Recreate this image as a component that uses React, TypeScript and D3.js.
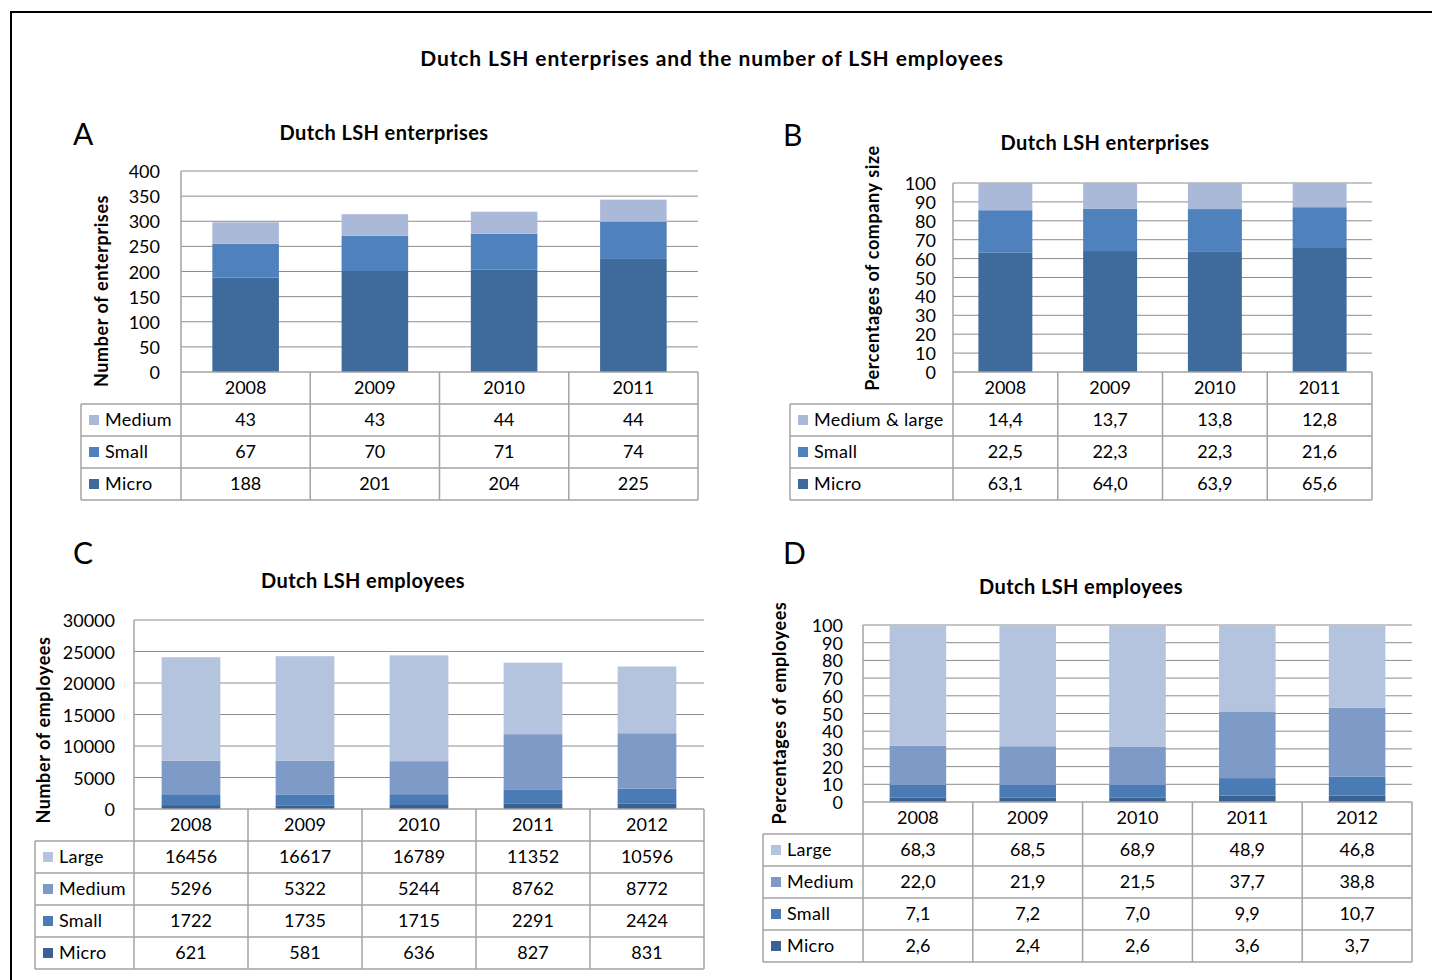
import React from "react";
import * as d3 from "d3";

const years4 = ["2008", "2009", "2010", "2011"];
const years5 = ["2008", "2009", "2010", "2011", "2012"];

const entMedium = [43, 43, 44, 44];
const entSmall = [67, 70, 71, 74];
const entMicro = [188, 201, 204, 225];

const entPctMediumLarge = [14.4, 13.7, 13.8, 12.8];
const entPctSmall = [22.5, 22.3, 22.3, 21.6];
const entPctMicro = [63.1, 64.0, 63.9, 65.6];

const empLarge = [16456, 16617, 16789, 11352, 10596];
const empMedium = [5296, 5322, 5244, 8762, 8772];
const empSmall = [1722, 1735, 1715, 2291, 2424];
const empMicro = [621, 581, 636, 827, 831];

const empPctLarge = [68.3, 68.5, 68.9, 48.9, 46.8];
const empPctMedium = [22.0, 21.9, 21.5, 37.7, 38.8];
const empPctSmall = [7.1, 7.2, 7.0, 9.9, 10.7];
const empPctMicro = [2.6, 2.4, 2.6, 3.6, 3.7];

const C_AB = { light: "#AAB9D7", mid: "#4F81BD", dark: "#3F6A9C" };
const C_CD = { large: "#B4C4DE", medium: "#7E9BC8", small: "#4A7BB4", micro: "#3A6194" };

const FONT = "Lato, 'Open Sans', 'DejaVu Sans', sans-serif";
const GRID = "#8C8C8C";
const TABLE = "#A3A3A3";

const intFmt = (v: number) => String(v);
const pctFmt = (v: number) => d3.format(".1f")(v).replace(".", ",");

type Series = { name: string; values: number[]; color: string };
type Cfg = {
  letter: string; letterX: number; letterY: number;
  title: string; titleX: number; titleY: number;
  yTitle: string; yTitleX: number; yTitleY: number;
  left: number; right: number; top: number; bottom: number; tableLeft: number;
  yMax: number; yStep: number; tickGap: number;
  cats: string[]; series: Series[]; fmt: (v: number) => string;
};

const panels: Cfg[] = [
  {
    letter: "A", letterX: 73, letterY: 145,
    title: "Dutch LSH enterprises", titleX: 384, titleY: 140,
    yTitle: "Number of enterprises", yTitleX: 101, yTitleY: 291,
    left: 181, right: 698, top: 171, bottom: 372, tableLeft: 81,
    yMax: 400, yStep: 50, tickGap: 21,
    cats: years4,
    series: [
      { name: "Medium", values: entMedium, color: C_AB.light },
      { name: "Small", values: entSmall, color: C_AB.mid },
      { name: "Micro", values: entMicro, color: C_AB.dark },
    ],
    fmt: intFmt,
  },
  {
    letter: "B", letterX: 783, letterY: 146,
    title: "Dutch LSH enterprises", titleX: 1105, titleY: 150,
    yTitle: "Percentages of company size", yTitleX: 872, yTitleY: 268,
    left: 953, right: 1372, top: 183, bottom: 372, tableLeft: 790,
    yMax: 100, yStep: 10, tickGap: 17,
    cats: years4,
    series: [
      { name: "Medium & large", values: entPctMediumLarge, color: C_AB.light },
      { name: "Small", values: entPctSmall, color: C_AB.mid },
      { name: "Micro", values: entPctMicro, color: C_AB.dark },
    ],
    fmt: pctFmt,
  },
  {
    letter: "C", letterX: 73, letterY: 564,
    title: "Dutch LSH employees", titleX: 363, titleY: 588,
    yTitle: "Number of employees", yTitleX: 43, yTitleY: 730,
    left: 134, right: 704, top: 620, bottom: 809, tableLeft: 35,
    yMax: 30000, yStep: 5000, tickGap: 19,
    cats: years5,
    series: [
      { name: "Large", values: empLarge, color: C_CD.large },
      { name: "Medium", values: empMedium, color: C_CD.medium },
      { name: "Small", values: empSmall, color: C_CD.small },
      { name: "Micro", values: empMicro, color: C_CD.micro },
    ],
    fmt: intFmt,
  },
  {
    letter: "D", letterX: 783, letterY: 564,
    title: "Dutch LSH employees", titleX: 1081, titleY: 594,
    yTitle: "Percentages of employees", yTitleX: 779, yTitleY: 713,
    left: 863, right: 1412, top: 625, bottom: 802, tableLeft: 763,
    yMax: 100, yStep: 10, tickGap: 20,
    cats: years5,
    series: [
      { name: "Large", values: empPctLarge, color: C_CD.large },
      { name: "Medium", values: empPctMedium, color: C_CD.medium },
      { name: "Small", values: empPctSmall, color: C_CD.small },
      { name: "Micro", values: empPctMicro, color: C_CD.micro },
    ],
    fmt: pctFmt,
  },
];

const ROW_H = 32;

function Panel({ cfg }: { cfg: Cfg }) {
  const { left, right, top, bottom, tableLeft, cats, series } = cfg;
  const x = d3.scaleBand<string>().domain(cats).range([left, right]).paddingInner(0.485).paddingOuter(0.2425);
  const y = d3.scaleLinear().domain([0, cfg.yMax]).range([bottom, top]).clamp(true);
  const ticks = d3.range(0, cfg.yMax + cfg.yStep / 2, cfg.yStep);
  const stackSeries = [...series].reverse();
  const rows = cats.map((c, i) => {
    const o: any = { cat: c };
    stackSeries.forEach((s) => (o[s.name] = s.values[i]));
    return o;
  });
  const stacked = d3.stack<any>().keys(stackSeries.map((s) => s.name))(rows);
  const step = x.step();
  const edges = cats.map((_, i) => left + i * step).concat([right]);
  const tableBottom = bottom + ROW_H * (series.length + 1);
  const colorOf = (k: string) => series.find((s) => s.name === k)!.color;

  return (
    <g fontFamily={FONT}>
      <text x={cfg.letterX} y={cfg.letterY} fontSize={30} fill="#000">{cfg.letter}</text>
      <text x={cfg.titleX} y={cfg.titleY} fontSize={20} letterSpacing={0.4} fontWeight="bold" textAnchor="middle" fill="#000">{cfg.title}</text>
      <text transform={`translate(${cfg.yTitleX},${cfg.yTitleY}) rotate(-90)`} fontSize={18} letterSpacing={0.6} fontWeight="bold" textAnchor="middle" dominantBaseline="central" fill="#000">{cfg.yTitle}</text>
      {ticks.filter((t) => t > 0).map((t) => (
        <line key={"g" + t} x1={left} x2={right} y1={y(t)} y2={y(t)} stroke={GRID} strokeWidth={1} />
      ))}
      {ticks.map((t) => (
        <text key={"t" + t} x={left - cfg.tickGap} y={y(t)} fontSize={18} textAnchor="end" dominantBaseline="central" fill="#000">{t}</text>
      ))}
      {stacked.map((layer) => (
        <g key={layer.key} fill={colorOf(layer.key)}>
          {layer.map((d, i) => (
            <rect key={i} x={x(cats[i])} width={x.bandwidth()} y={y(d[1])} height={Math.max(0, y(d[0]) - y(d[1]))} />
          ))}
        </g>
      ))}
      <line x1={left} x2={right} y1={bottom} y2={bottom} stroke={TABLE} strokeWidth={1.5} />
      {series.map((_, k) => (
        <line key={"h" + k} x1={tableLeft} x2={right} y1={bottom + ROW_H * (k + 1)} y2={bottom + ROW_H * (k + 1)} stroke={TABLE} strokeWidth={1.5} />
      ))}
      <line x1={tableLeft} x2={right} y1={tableBottom} y2={tableBottom} stroke={TABLE} strokeWidth={1.5} />
      <line x1={tableLeft} x2={tableLeft} y1={bottom + ROW_H} y2={tableBottom} stroke={TABLE} strokeWidth={1.5} />
      <line x1={left} x2={left} y1={top} y2={tableBottom} stroke={TABLE} strokeWidth={1.5} />
      {edges.slice(1).map((e, i) => (
        <line key={"v" + i} x1={e} x2={e} y1={bottom} y2={tableBottom} stroke={TABLE} strokeWidth={1.5} />
      ))}
      {cats.map((c) => (
        <text key={"c" + c} x={x(c)! + x.bandwidth() / 2} y={bottom + ROW_H / 2 + 6} fontSize={18} textAnchor="middle" fill="#000">{c}</text>
      ))}
      {series.map((s, k) => {
        const cy = bottom + ROW_H * (k + 1) + ROW_H / 2;
        return (
          <g key={"r" + s.name}>
            <rect x={tableLeft + 8} y={cy - 5} width={10} height={10} fill={s.color} />
            <text x={tableLeft + 24} y={cy + 6} fontSize={18} letterSpacing={0.3} fill="#000">{s.name}</text>
            {s.values.map((v, i) => (
              <text key={i} x={x(cats[i])! + x.bandwidth() / 2} y={cy + 6} fontSize={18} textAnchor="middle" fill="#000">{cfg.fmt(v)}</text>
            ))}
          </g>
        );
      })}
    </g>
  );
}

export default function App() {
  return (
    <svg width={1432} height={980} style={{ position: "absolute", left: 0, top: 0, background: "#fff" }}>
      <rect x={0} y={0} width={1432} height={980} fill="#fff" />
      <line x1={10} x2={1432} y1={12} y2={12} stroke="#000" strokeWidth={2} />
      <line x1={11} x2={11} y1={12} y2={980} stroke="#000" strokeWidth={2} />
      <text x={712} y={66} textAnchor="middle" fontFamily={FONT} fontSize={21} letterSpacing={0.9} fontWeight="bold" fill="#000">
        Dutch LSH enterprises and the number of LSH employees
      </text>
      {panels.map((p) => (
        <Panel key={p.letter} cfg={p} />
      ))}
    </svg>
  );
}
